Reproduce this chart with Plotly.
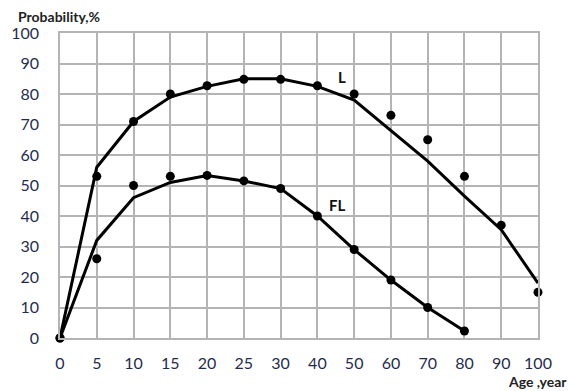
import plotly.graph_objects as go

# Age groups (equally spaced categories on the x axis)
ages = ["0", "5", "10", "15", "20", "25", "30", "40", "50", "60", "70", "80", "90", "100"]

# L: observed points and fitted curve
l_points = [0, 53, 71, 80, 82.7, 84.8, 84.8, 82.7, 80, 73, 65, 53, 37, 15]
l_curve = [0, 56, 71, 79, 82.5, 85, 85, 82.5, 78, 68, 58, 46.5, 35.5, 18]

# FL: observed points and fitted curve (ages 0-80)
fl_ages = ages[:12]
fl_points = [0, 26, 50, 53, 53.3, 51.5, 49, 40, 29, 19, 10, 2.3]
fl_curve = [0, 32, 46, 51, 53.3, 51.5, 49, 40, 29, 19, 10, 2.3]

y_ticks = list(range(0, 101, 10))

font_family = "Lato, 'Open Sans', sans-serif"
tick_color = "#1f2d4d"

fig = go.Figure()

fig.add_trace(go.Scatter(x=ages, y=l_curve, mode="lines",
                         line=dict(color="black", width=3), cliponaxis=False))
fig.add_trace(go.Scatter(x=ages, y=l_points, mode="markers",
                         marker=dict(color="black", size=9), cliponaxis=False))
fig.add_trace(go.Scatter(x=fl_ages, y=fl_curve, mode="lines",
                         line=dict(color="black", width=3), cliponaxis=False))
fig.add_trace(go.Scatter(x=fl_ages, y=fl_points, mode="markers",
                         marker=dict(color="black", size=9), cliponaxis=False))

fig.update_layout(
    width=571, height=391,
    margin=dict(l=60, r=33, t=33, b=53),
    plot_bgcolor="white", paper_bgcolor="white",
    showlegend=False,
    font=dict(family=font_family, color=tick_color, size=16),
    xaxis=dict(
        type="category", categoryorder="array", categoryarray=ages,
        range=[0, 13], showgrid=True, gridcolor="#b4b4b4", gridwidth=1.5,
        showline=True, linecolor="#b4b4b4", linewidth=1.5, mirror=True,
        zeroline=False, ticks="", ticklabelstandoff=10,
        tickfont=dict(size=16, color=tick_color),
    ),
    yaxis=dict(
        range=[0, 100], tickvals=y_ticks, showgrid=True,
        gridcolor="#b4b4b4", gridwidth=1.5,
        showline=True, linecolor="#b4b4b4", linewidth=1.5, mirror=True,
        zeroline=False, ticks="", ticklabelstandoff=16,
        tickfont=dict(size=16, color=tick_color),
    ),
    annotations=[
        dict(text="<b>Probability,%</b>", xref="paper", yref="paper",
             x=0, y=1.0, xanchor="left", yanchor="middle",
             xshift=-44, yshift=17,
             showarrow=False, font=dict(size=14, color="#222222")),
        dict(text="<b>Age ,year</b>", xref="paper", yref="paper",
             x=1.0, y=0, xanchor="left", yanchor="middle",
             xshift=-32, yshift=-43,
             showarrow=False, font=dict(size=14, color="#222222")),
        dict(text="<b>L</b>", x=7.67, y=85.7, xref="x", yref="y",
             showarrow=False, font=dict(size=15, color="#111111")),
        dict(text="<b>FL</b>", x=7.53, y=43.7, xref="x", yref="y",
             showarrow=False, font=dict(size=15, color="#111111")),
    ],
)

fig.write_html("out.html")
